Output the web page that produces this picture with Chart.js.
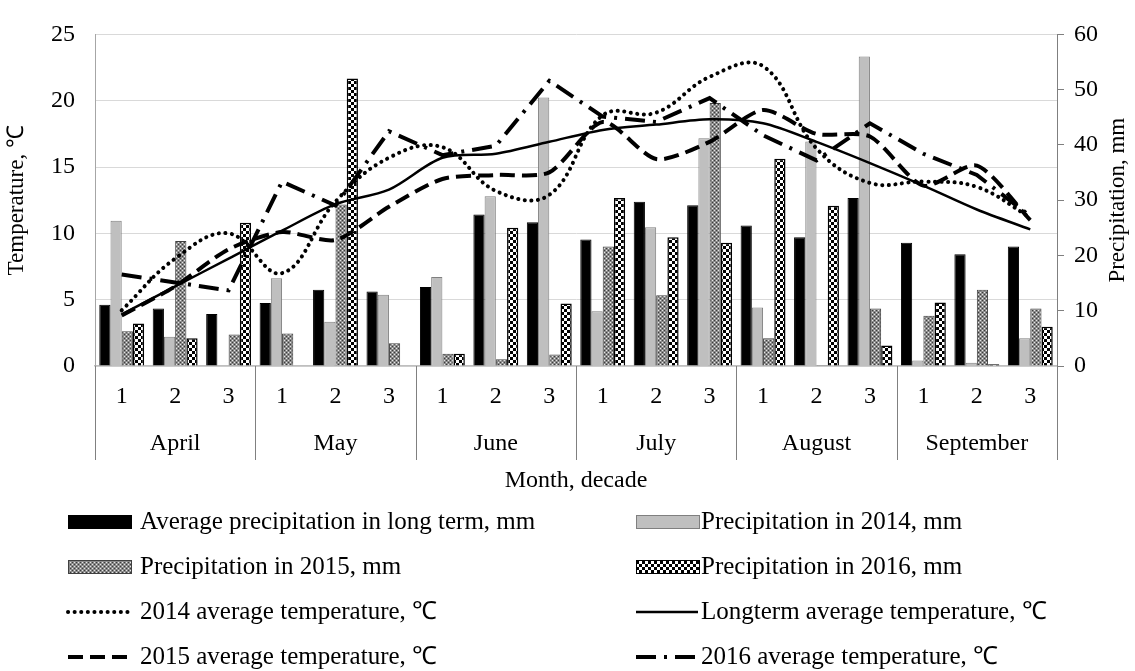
<!DOCTYPE html>
<html>
<head>
<meta charset="utf-8">
<script src="https://cdn.jsdelivr.net/npm/chart.js@4.4.1/dist/chart.umd.min.js"></script>
<style>
html, body { margin: 0; padding: 0; background: #fff; }
#wrap { width: 1135px; height: 671px; }
</style>
</head>
<body>
<div id="wrap"><canvas id="climateChart" width="1135" height="671"></canvas></div>
<script>
const decadeLabels = ['1', '2', '3', '1', '2', '3', '1', '2', '3', '1', '2', '3', '1', '2', '3', '1', '2', '3'];
const months = ['April', 'May', 'June', 'July', 'August', 'September'];

// precipitation, mm (right axis)
const precipLongTerm = [11.1, 10.4, 9.4, 11.4, 13.8, 13.5, 14.3, 27.4, 26.0, 22.9, 29.7, 29.1, 25.4, 23.3, 30.4, 22.3, 20.2, 21.6];
const precip2014 = [26.3, 5.3, 0, 15.9, 8.0, 12.9, 16.1, 30.7, 48.6, 9.9, 25.1, 41.2, 10.6, 40.6, 56.0, 1.0, 0.6, 5.0];
const precip2015 = [6.3, 22.6, 5.7, 5.9, 29.2, 4.1, 2.2, 1.2, 2.1, 21.6, 12.8, 47.6, 5.0, 0.2, 10.4, 9.1, 13.8, 10.4];
const precip2016 = [7.7, 5.0, 25.9, 0, 52.0, 0, 2.2, 25.0, 11.3, 30.4, 23.3, 22.3, 37.5, 29.0, 3.7, 11.5, 0.3, 7.1];

// temperature, C (left axis)
const temp2014 = [4.2, 8.1, 10.0, 7.0, 12.4, 15.7, 16.5, 13.2, 12.9, 18.9, 19.1, 21.8, 22.6, 16.4, 13.8, 13.9, 13.5, 11.2];
const tempLongTerm = [3.9, 6.0, 8.1, 10.2, 12.2, 13.3, 15.7, 16.0, 16.9, 17.8, 18.2, 18.6, 18.3, 16.9, 15.3, 13.6, 11.8, 10.3];
const temp2015 = [3.8, 6.0, 8.8, 10.1, 9.5, 12.0, 14.1, 14.4, 14.6, 18.4, 15.6, 16.9, 19.3, 17.5, 17.3, 13.6, 15.1, 11.0];
const temp2016 = [6.9, 6.3, 5.7, 13.9, 12.1, 17.7, 15.9, 16.6, 21.5, 18.8, 18.4, 20.2, 17.4, 15.5, 18.3, 16.0, 14.4, 11.3];

const serif = "'Liberation Serif', 'Times New Roman', serif";
Chart.defaults.font.family = serif;
Chart.defaults.color = '#000';

function makePattern(size, draw) {
    const c = document.createElement('canvas');
    c.width = size;
    c.height = size;
    const g = c.getContext('2d');
    draw(g);
    return g.createPattern(c, 'repeat');
}

const hatch2015 = makePattern(4, g => {
    g.fillStyle = '#8a8a8a'; g.fillRect(0, 0, 4, 4);
    g.fillStyle = '#e6e6e6'; g.fillRect(0, 0, 1, 1); g.fillRect(2, 2, 1, 1);
    g.fillStyle = '#3c3c3c'; g.fillRect(2, 0, 1, 1); g.fillRect(0, 2, 1, 1);
});
const checker2016 = makePattern(6, g => {
    g.fillStyle = '#000'; g.fillRect(0, 0, 6, 6);
    g.fillStyle = '#fff'; g.fillRect(0, 0, 3, 3); g.fillRect(3, 3, 3, 3);
});

// month separators, right axis title and the two-column legend
const decorPlugin = {
    id: 'decor',
    afterDraw(chart) {
        const ctx = chart.ctx;
        const xs = chart.scales.x;
        const area = chart.chartArea;
        const perMonth = decadeLabels.length / months.length;
        const yBottom = chart.scales.xMonth.top + 44;
        ctx.save();
        ctx.strokeStyle = '#808080';
        ctx.lineWidth = 1;
        for (let m = 0; m <= months.length; m++) {
            let px;
            if (m === 0) px = area.left;
            else if (m === months.length) px = area.right;
            else px = (xs.getPixelForValue(m * perMonth - 1) + xs.getPixelForValue(m * perMonth)) / 2;
            px = Math.round(px) + 0.5;
            ctx.beginPath();
            ctx.moveTo(px, area.bottom);
            ctx.lineTo(px, yBottom);
            ctx.stroke();
        }
        ctx.restore();

        ctx.save();
        ctx.translate(1118, (area.top + area.bottom) / 2);
        ctx.rotate(-Math.PI / 2);
        ctx.font = '23px ' + serif;
        ctx.textAlign = 'center';
        ctx.textBaseline = 'middle';
        ctx.fillStyle = '#000';
        ctx.fillText('Precipitation, mm', 0, 0);
        ctx.restore();

        const colX = [68, 636];
        const textX = [140, 701];
        chart.data.datasets.forEach((ds, i) => {
            const col = i % 2;
            const x = colX[col];
            const y = 522 + Math.floor(i / 2) * 45;
            ctx.save();
            if (ds.type === 'line') {
                ctx.strokeStyle = ds.borderColor;
                ctx.lineWidth = ds.borderWidth;
                ctx.setLineDash(ds.borderDash || []);
                ctx.lineCap = ds.borderCapStyle || 'butt';
                ctx.beginPath();
                ctx.moveTo(x, y);
                ctx.lineTo(x + 62, y);
                ctx.stroke();
            } else {
                ctx.fillStyle = ds.backgroundColor;
                ctx.fillRect(x, y - 7, 64, 14);
                ctx.strokeStyle = ds.borderColor;
                ctx.lineWidth = 1;
                ctx.strokeRect(x + 0.5, y - 6.5, 63, 13);
            }
            ctx.restore();
            ctx.save();
            ctx.font = '25px ' + serif;
            ctx.fillStyle = '#000';
            ctx.textBaseline = 'middle';
            ctx.fillText(ds.label, textX[col], y);
            ctx.restore();
        });
    }
};

const ctx = document.getElementById('climateChart');
new Chart(ctx, {
    type: 'bar',
    data: {
        labels: decadeLabels,
        datasets: [
            {
                label: 'Average precipitation in long term, mm',
                data: precipLongTerm,
                backgroundColor: '#000',
                borderColor: '#000',
                borderWidth: 1,
                xAxisID: 'x', yAxisID: 'yPrec', order: 2
            },
            {
                label: 'Precipitation in 2014, mm',
                data: precip2014,
                backgroundColor: '#bfbfbf',
                borderColor: '#7f7f7f',
                borderWidth: 1,
                xAxisID: 'x', yAxisID: 'yPrec', order: 2
            },
            {
                label: 'Precipitation in 2015, mm',
                data: precip2015,
                backgroundColor: hatch2015,
                borderColor: '#404040',
                borderWidth: 1,
                xAxisID: 'x', yAxisID: 'yPrec', order: 2
            },
            {
                label: 'Precipitation in 2016, mm',
                data: precip2016,
                backgroundColor: checker2016,
                borderColor: '#000',
                borderWidth: 1.5,
                xAxisID: 'x', yAxisID: 'yPrec', order: 2
            },
            {
                type: 'line',
                label: '2014 average temperature, \u2103',
                data: temp2014,
                borderColor: '#000',
                borderWidth: 4,
                borderDash: [0.1, 6.5],
                borderCapStyle: 'round',
                tension: 0.4,
                pointRadius: 0,
                fill: false,
                xAxisID: 'x', yAxisID: 'yTemp', order: 0
            },
            {
                type: 'line',
                label: 'Longterm average temperature, \u2103',
                data: tempLongTerm,
                borderColor: '#000',
                borderWidth: 2.5,
                tension: 0.3,
                pointRadius: 0,
                fill: false,
                xAxisID: 'x', yAxisID: 'yTemp', order: 0
            },
            {
                type: 'line',
                label: '2015 average temperature, \u2103',
                data: temp2015,
                borderColor: '#000',
                borderWidth: 4,
                borderDash: [15, 7],
                tension: 0.25,
                pointRadius: 0,
                fill: false,
                xAxisID: 'x', yAxisID: 'yTemp', order: 0
            },
            {
                type: 'line',
                label: '2016 average temperature, \u2103',
                data: temp2016,
                borderColor: '#000',
                borderWidth: 4,
                borderDash: [20, 8, 3, 8],
                tension: 0,
                pointRadius: 0,
                fill: false,
                xAxisID: 'x', yAxisID: 'yTemp', order: 0
            }
        ]
    },
    options: {
        responsive: false,
        devicePixelRatio: 1,
        animation: false,
        events: [],
        layout: { padding: { top: 25, left: 0, right: 0, bottom: 175 } },
        plugins: {
            legend: { display: false },
            tooltip: { enabled: false }
        },
        datasets: {
            bar: { categoryPercentage: 0.84, barPercentage: 1.0 }
        },
        scales: {
            x: {
                type: 'category',
                position: 'bottom',
                weight: 0,
                offset: true,
                grid: { display: false },
                border: { display: true, color: '#bfbfbf', width: 1.5 },
                ticks: { font: { size: 24 }, padding: 8, maxRotation: 0, autoSkip: false },
                afterFit(s) { s.height = 50; }
            },
            xMonth: {
                type: 'category',
                labels: months,
                position: 'bottom',
                weight: 1,
                offset: true,
                grid: { display: false },
                border: { display: false },
                ticks: { font: { size: 24 }, padding: 5, maxRotation: 0, autoSkip: false },
                title: { display: true, text: 'Month, decade', font: { size: 24 }, padding: { top: 0, bottom: 1 } },
                afterFit(s) { s.height = 80; }
            },
            yTemp: {
                position: 'left',
                min: 0,
                max: 25,
                ticks: { stepSize: 5, font: { size: 24 }, padding: 20 },
                grid: { color: '#d9d9d9', drawTicks: false },
                border: { color: '#a6a6a6' },
                title: { display: true, text: 'Temperature, \u2103', font: { size: 23 }, padding: { top: 3, bottom: 0 } },
                afterFit(s) { s.width = 95; }
            },
            yPrec: {
                position: 'right',
                min: 0,
                max: 60,
                ticks: { stepSize: 10, font: { size: 24 }, padding: 10 },
                grid: { drawOnChartArea: false, tickLength: 7, tickColor: '#7f7f7f' },
                border: { color: '#7f7f7f' },
                afterFit(s) { s.width = 78; }
            }
        }
    },
    plugins: [decorPlugin]
});
</script>
</body>
</html>
